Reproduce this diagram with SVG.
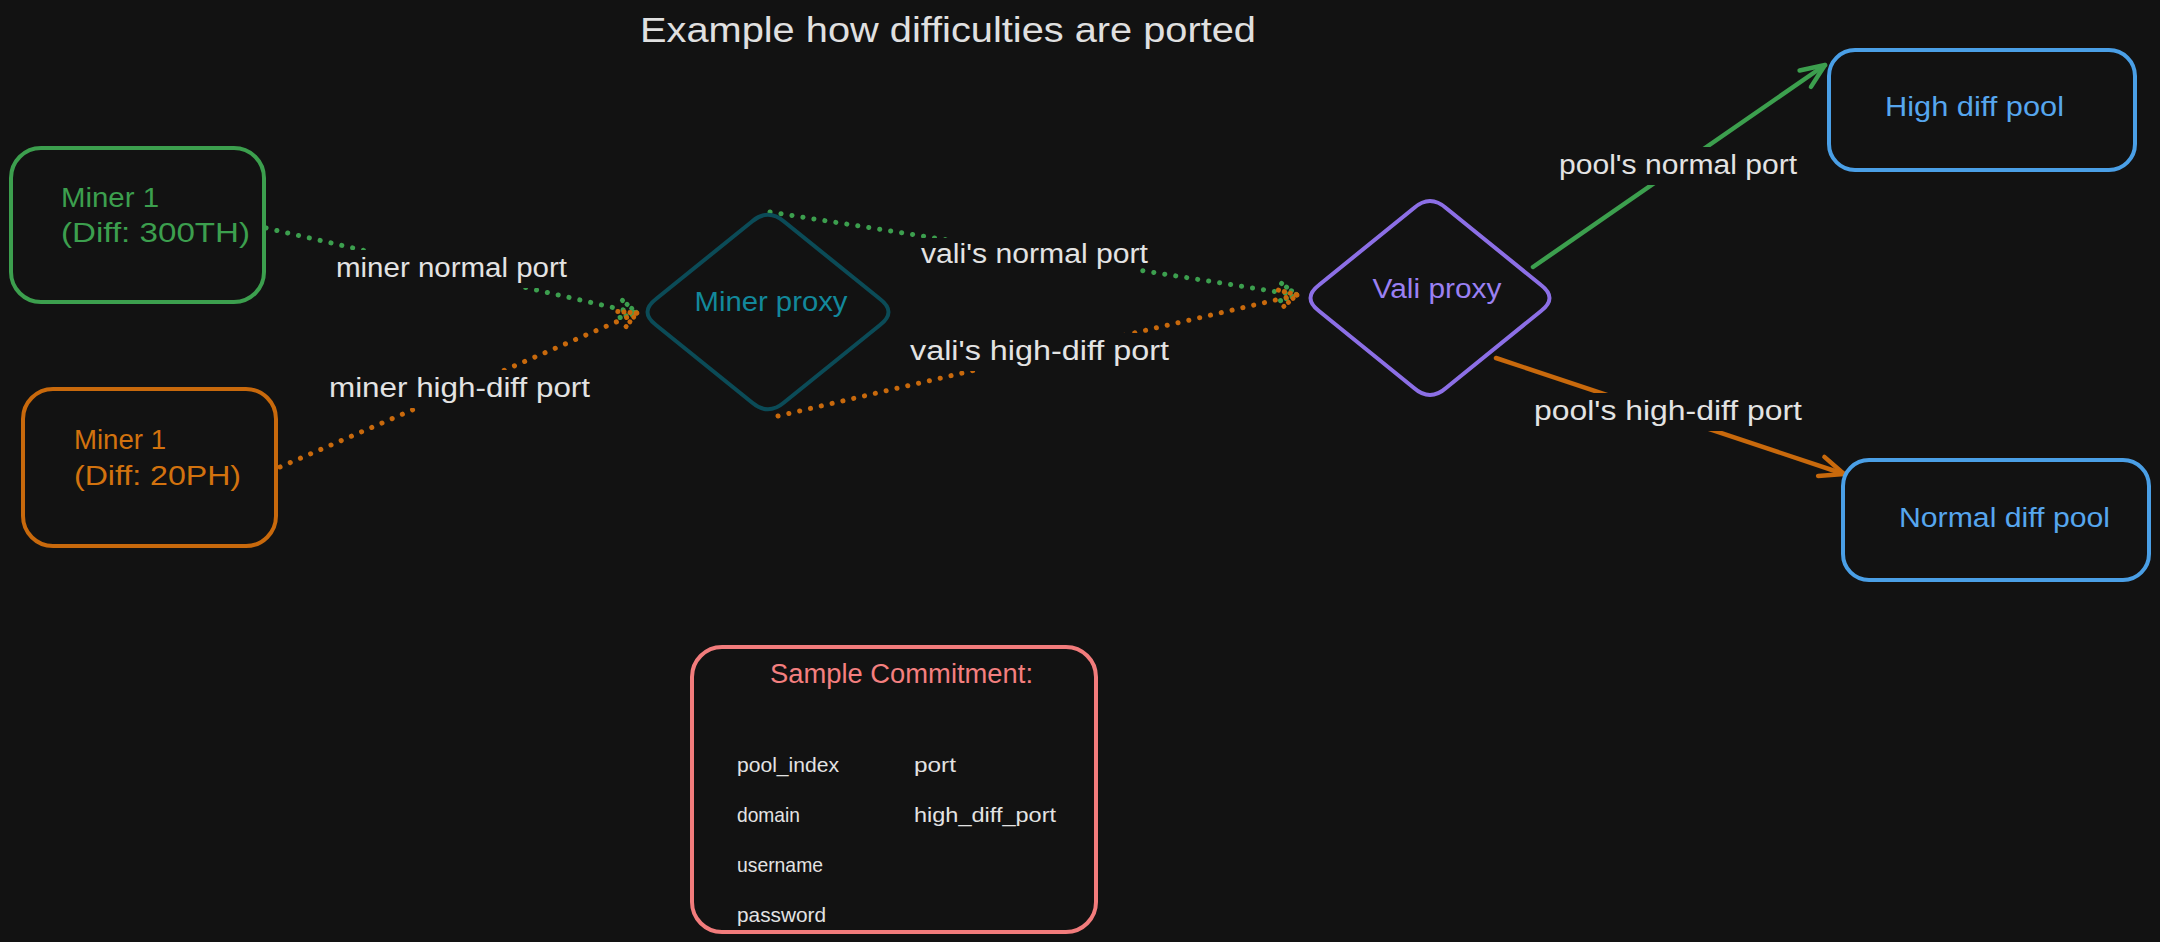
<svg xmlns="http://www.w3.org/2000/svg" width="2160" height="942" viewBox="0 0 2160 942">
<style>
  text { font-family: "Liberation Sans", "DejaVu Sans", sans-serif; }
  .lbl { fill: #e3e3e3; font-size: 27px; }
  .lblbg { fill: #121212; }
  .dot { fill: none; stroke-width: 5; stroke-linecap: round; stroke-linejoin: round; stroke-dasharray: 0.1 11; }
  .solid { fill: none; stroke-width: 4.5; stroke-linecap: round; stroke-linejoin: round; }
  .g { stroke: #3c9f4e; }
  .o { stroke: #c8690c; }
  .box { fill: #121212; stroke-width: 4; }
  .item { fill: #e3e3e3; font-size: 21px; }
</style>
<defs>
  <marker id="mDotG" markerUnits="userSpaceOnUse" orient="auto" refX="0" refY="0" markerWidth="40" markerHeight="40" viewBox="-30 -20 40 40" overflow="visible">
    <path d="M -17,-9 L 0,0 L -17,9" class="dot g" style="stroke-dasharray:0.1 6"/>
  </marker>
  <marker id="mDotO" markerUnits="userSpaceOnUse" orient="auto" refX="0" refY="0" markerWidth="40" markerHeight="40" viewBox="-30 -20 40 40" overflow="visible">
    <path d="M -17,-9 L 0,0 L -17,9" class="dot o" style="stroke-dasharray:0.1 6"/>
  </marker>
  <marker id="mSolG" markerUnits="userSpaceOnUse" orient="auto" refX="0" refY="0" markerWidth="40" markerHeight="40" viewBox="-30 -20 40 40" overflow="visible">
    <path d="M -24,-10 L 0,0 L -24,10" class="solid g"/>
  </marker>
  <marker id="mSolO" markerUnits="userSpaceOnUse" orient="auto" refX="0" refY="0" markerWidth="40" markerHeight="40" viewBox="-30 -20 40 40" overflow="visible">
    <path d="M -24,-10 L 0,0 L -24,10" class="solid o"/>
  </marker>
</defs>
<rect x="0" y="0" width="2160" height="942" fill="#121212"/>

<g id="title">
  <text x="640" y="42" font-size="35" fill="#e0e0e0" textLength="616" lengthAdjust="spacingAndGlyphs">Example how difficulties are ported</text>
</g>

<g id="connectors">
  <path d="M 266,228 L 637,313" class="dot g" marker-end="url(#mDotG)"/>
  <path d="M 280,467 L 637,313" class="dot o" marker-end="url(#mDotO)"/>
  <path d="M 770,212 L 1297,295" class="dot g" marker-end="url(#mDotG)"/>
  <path d="M 778,416 L 1297,295" class="dot o" marker-end="url(#mDotO)"/>
  <path d="M 1533,267 L 1825,65" class="solid g" marker-end="url(#mSolG)"/>
  <path d="M 1496,358 L 1844,474" class="solid o" marker-end="url(#mSolO)"/>
  <rect class="lblbg" x="330" y="250" width="243" height="38"/>
  <text class="lbl" x="336" y="277" textLength="231" lengthAdjust="spacingAndGlyphs">miner normal port</text>
  <rect class="lblbg" x="323" y="370" width="273" height="38"/>
  <text class="lbl" x="329" y="397" textLength="261" lengthAdjust="spacingAndGlyphs">miner high-diff port</text>
  <rect class="lblbg" x="915" y="238" width="225" height="34"/>
  <text class="lbl" x="921" y="263" textLength="227" lengthAdjust="spacingAndGlyphs">vali's normal port</text>
  <rect class="lblbg" x="904" y="333" width="271" height="38"/>
  <text class="lbl" x="910" y="360" textLength="259" lengthAdjust="spacingAndGlyphs">vali's high-diff port</text>
  <rect class="lblbg" x="1553" y="147" width="250" height="38"/>
  <text class="lbl" x="1559" y="174" textLength="238" lengthAdjust="spacingAndGlyphs">pool's normal port</text>
  <rect class="lblbg" x="1528" y="393" width="280" height="38"/>
  <text class="lbl" x="1534" y="420" textLength="268" lengthAdjust="spacingAndGlyphs">pool's high-diff port</text>
</g>

<g id="miner1-green">
  <rect class="box" x="11" y="148" width="253" height="154" rx="30" stroke="#3c9f4e"/>
  <text x="61" y="207" font-size="27" fill="#3c9f4e" textLength="98" lengthAdjust="spacingAndGlyphs">Miner 1</text>
  <text x="61" y="242" font-size="27" fill="#3c9f4e" textLength="189" lengthAdjust="spacingAndGlyphs">(Diff: 300TH)</text>
</g>

<g id="miner1-orange">
  <rect class="box" x="23" y="389" width="253" height="157" rx="30" stroke="#c8690c"/>
  <text x="74" y="449" font-size="27" fill="#d2720e" textLength="92" lengthAdjust="spacingAndGlyphs">Miner 1</text>
  <text x="74" y="485" font-size="27" fill="#d2720e" textLength="167" lengthAdjust="spacingAndGlyphs">(Diff: 20PH)</text>
</g>

<g id="miner-proxy">
  <path d="M 752,221.5 Q 768,208 784,221.5 L 880,299 Q 897,312 880,325 L 784,402.5 Q 768,416 752,402.5 L 656,325 Q 639,312 656,299 Z" fill="#121212" stroke="#0b4b57" stroke-width="4"/>
  <text x="771" y="311" font-size="27" fill="#12889b" text-anchor="middle" textLength="153" lengthAdjust="spacingAndGlyphs">Miner proxy</text>
</g>

<g id="vali-proxy">
  <path d="M 1414,208 Q 1430,194 1446,208 L 1541,285 Q 1558,298 1541,311 L 1446,388 Q 1430,402 1414,388 L 1319,311 Q 1302,298 1319,285 Z" fill="#121212" stroke="#8c6fe6" stroke-width="4"/>
  <text x="1437" y="298" font-size="27" fill="#9a80f2" text-anchor="middle" textLength="129" lengthAdjust="spacingAndGlyphs">Vali proxy</text>
</g>

<g id="high-diff-pool">
  <rect class="box" x="1829" y="50" width="306" height="120" rx="26" stroke="#4a9fe6"/>
  <text x="1885" y="116" font-size="27" fill="#56a6ee" textLength="179" lengthAdjust="spacingAndGlyphs">High diff pool</text>
</g>

<g id="normal-diff-pool">
  <rect class="box" x="1843" y="460" width="306" height="120" rx="26" stroke="#4a9fe6"/>
  <text x="1899" y="527" font-size="27" fill="#56a6ee" textLength="211" lengthAdjust="spacingAndGlyphs">Normal diff pool</text>
</g>

<g id="sample-commitment">
  <rect class="box" x="692" y="647" width="404" height="285" rx="30" stroke="#f27c7c"/>
  <text x="770" y="683" font-size="27" fill="#f47f7f" textLength="263" lengthAdjust="spacingAndGlyphs">Sample Commitment:</text>
  <text class="item" x="737" y="772" textLength="102" lengthAdjust="spacingAndGlyphs">pool_index</text>
  <text class="item" x="914" y="772" textLength="42" lengthAdjust="spacingAndGlyphs">port</text>
  <text class="item" x="737" y="822" textLength="63" lengthAdjust="spacingAndGlyphs">domain</text>
  <text class="item" x="914" y="822" textLength="142" lengthAdjust="spacingAndGlyphs">high_diff_port</text>
  <text class="item" x="737" y="872" textLength="86" lengthAdjust="spacingAndGlyphs">username</text>
  <text class="item" x="737" y="922" textLength="89" lengthAdjust="spacingAndGlyphs">password</text>
</g>
</svg>
